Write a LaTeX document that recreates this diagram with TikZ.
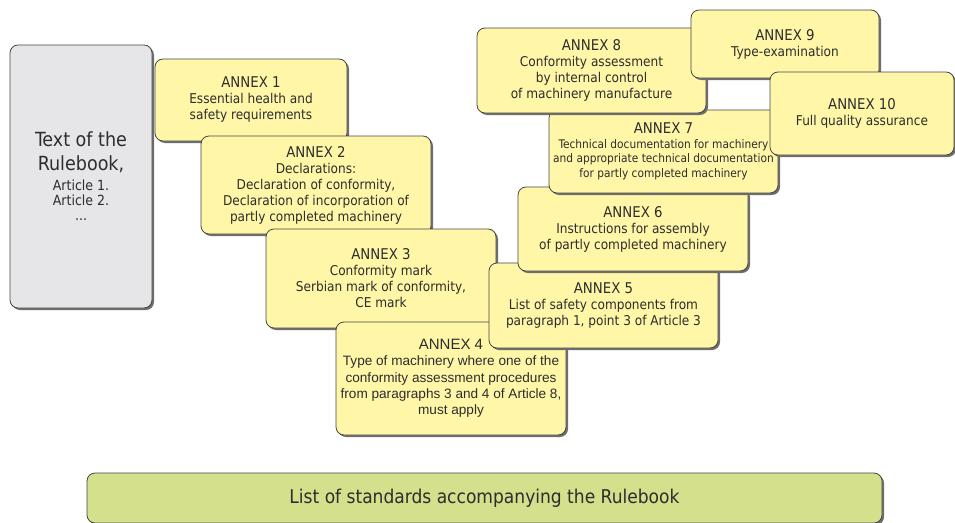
\documentclass[tikz,border=0pt]{standalone}
\usepackage{fontspec}
\setmainfont{DejaVu Sans Condensed}
\newfontfamily\arialfont{Liberation Sans}
\usetikzlibrary{shadows}

\definecolor{annexfill}{RGB}{255,246,168}
\definecolor{rulefill}{RGB}{230,230,232}
\definecolor{stdfill}{RGB}{212,224,140}
\definecolor{boxline}{RGB}{70,70,70}
\definecolor{textgray}{RGB}{45,45,45}
\definecolor{shadowgray}{RGB}{110,110,110}

\tikzset{
  roundbox/.style={rectangle, rounded corners=8pt, draw=boxline, line width=0.8pt,
    align=center, text=textgray, inner sep=0pt,
    drop shadow={shadow xshift=2pt, shadow yshift=-2pt, fill=shadowgray, opacity=1}},
  annexbox/.style={roundbox, fill=annexfill, font=\fontsize{13.5}{16}\selectfont},
}
% title line of an annex box
\newcommand{\anx}[1]{{\fontsize{14.8}{16}\selectfont ANNEX #1}\\}
\newcommand{\rbline}[1]{{\fontsize{19.5}{23}\selectfont #1}}

\begin{document}
\begin{tikzpicture}[x=1pt,y=-1pt]
\useasboundingbox (0,0) rectangle (955,522);
% main text of the rulebook
\node[roundbox,fill=rulefill,minimum width=142pt,minimum height=263pt,font=\fontsize{14}{15}\selectfont] (RB) at (81,176.5) {\rbline{Text of the}\\[8pt]\rbline{Rulebook,}\\[5pt]Article 1.\\Article 2.\\...};
% annexes
\node[annexbox,minimum width=192pt,minimum height=82pt] (A1) at (251,100) {\anx{1}Essential health and\\safety requirements};
\node[annexbox,minimum width=230pt,minimum height=98pt] (A2) at (316,185) {\anx{2}Declarations:\\Declaration of conformity,\\Declaration of incorporation of\\partly completed machinery};
\node[annexbox,minimum width=230pt,minimum height=99pt] (A3) at (381,278.5) {\anx{3}Conformity mark\\Serbian mark of conformity,\\CE mark};
\node[annexbox,minimum width=230pt,minimum height=113pt,font=\arialfont\fontsize{13.6}{16.3}\selectfont] (A4) at (451,378.5) {{\fontsize{15}{16.3}\selectfont ANNEX 4}\\Type of machinery where one of the\\conformity assessment procedures\\from paragraphs 3 and 4 of Article 8,\\must apply};
\node[annexbox,minimum width=229pt,minimum height=85pt] (A5) at (603.5,305.5) {\anx{5}List of safety components from\\paragraph 1, point 3 of Article 3};
\node[annexbox,minimum width=230pt,minimum height=84pt] (A6) at (633,229) {\anx{6}Instructions for assembly\\of partly completed machinery};
\node[annexbox,minimum width=229pt,minimum height=83pt,font=\fontsize{11.8}{14.5}\selectfont] (A7) at (663.5,151.5) {\anx{7}Technical documentation for machinery\\and appropriate technical documentation\\for partly completed machinery};
\node[annexbox,minimum width=229pt,minimum height=85pt] (A8) at (591.5,70.5) {\anx{8}Conformity assessment\\by internal control\\of machinery manufacture};
\node[annexbox,minimum width=188pt,minimum height=68pt] (A9) at (785,44) {\anx{9}Type-examination};
\node[annexbox,minimum width=184pt,minimum height=83pt] (A10) at (862,113.5) {\anx{10}Full quality assurance};
% standards bar
\node[roundbox,fill=stdfill,minimum width=795pt,minimum height=50pt,font=\fontsize{19}{22}\selectfont] (STD) at (484.5,498) {List of standards accompanying the Rulebook};
\end{tikzpicture}
\end{document}
